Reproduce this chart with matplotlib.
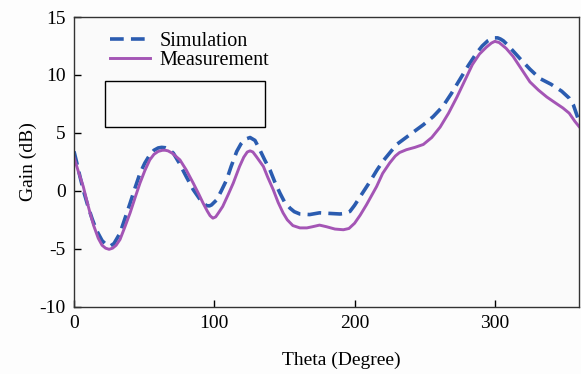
import matplotlib
matplotlib.use("Agg")
import matplotlib.pyplot as plt
from matplotlib.patches import Rectangle

plt.rcParams['font.family'] = ['Liberation Serif', 'DejaVu Serif']
plt.rcParams['axes.unicode_minus'] = False

# Simulated gain vs. theta
sim_theta = [0, 2, 4.3, 7, 10, 13, 16, 20, 23, 25.7, 28.5, 32.8, 36, 40, 43.5, 47, 50.5,
             54, 57, 60, 62.5, 65, 67.5, 70.8, 75, 80, 85, 90, 92.5, 94.5, 96.5, 98,
             101.7, 105, 108.8, 112, 116, 119, 122, 125.5, 129, 132.6, 136, 139.7, 143,
             146.8, 150, 154, 157, 161, 168, 175, 182, 189.6, 193, 196.7, 200, 204, 211,
             216, 220.5, 230, 240, 249, 256, 263, 269, 275, 281, 287, 291, 295, 298, 300,
             302, 304, 306, 309, 312, 318, 325, 332, 340, 347.6, 353, 356, 358, 360]
sim_gain = [3.4, 2.4, 1.2, -0.1, -1.35, -2.45, -3.4, -4.3, -4.65, -4.78, -4.55, -3.65,
            -2.5, -1.06, 0.25, 1.5, 2.4, 3.1, 3.5, 3.7, 3.75, 3.72, 3.6, 3.25, 2.4, 1.23,
            0.1, -0.78, -1.1, -1.28, -1.3, -1.22, -0.78, 0.0, 0.95, 2.1, 3.4, 4.05, 4.45,
            4.6, 4.35, 3.5, 2.65, 1.8, 0.8, -0.2, -0.95, -1.5, -1.8, -2.0, -2.05, -1.9,
            -1.95, -2.0, -1.95, -1.78, -1.25, -0.5, 0.8, 1.8, 2.6, 4.0, 4.9, 5.7, 6.4,
            7.3, 8.4, 9.6, 10.8, 11.9, 12.5, 12.95, 13.15, 13.2, 13.2, 13.1, 12.95, 12.6,
            12.2, 11.4, 10.5, 9.7, 9.2, 8.6, 8.0, 7.4, 6.7, 6.0]

# Measured gain vs. theta
meas_theta = [0, 3, 6.6, 9, 11.4, 14, 17.3, 20, 22.5, 25, 27.5, 30, 32.8, 36, 40, 43.5,
              47, 50.5, 54, 57, 60, 63, 65, 67, 70, 75.5, 80, 85, 89, 92, 95, 97, 99,
              101, 103, 106, 110, 113.5, 118, 121, 123.5, 125.5, 127.5, 130, 135, 138,
              142, 145.5, 149, 152, 156, 161, 166, 170, 175, 180, 186, 192, 196, 200,
              204, 208.5, 215.7, 220, 225, 229, 232, 237, 243, 249, 255, 261, 267, 273,
              278.5, 284, 289, 294, 297.5, 300, 303, 308, 313, 319, 325, 331, 337, 343,
              348.5, 353, 357, 360]
meas_gain = [2.9, 1.7, 0.37, -0.8, -1.9, -3.0, -4.1, -4.7, -4.95, -5.05, -4.95, -4.7,
             -4.2, -3.2, -1.9, -0.6, 0.66, 1.75, 2.67, 3.15, 3.4, 3.5, 3.5, 3.45, 3.25,
             2.67, 1.8, 0.66, -0.3, -1.06, -1.75, -2.15, -2.36, -2.25, -1.9, -1.35, -0.3,
             0.66, 2.1, 2.9, 3.35, 3.45, 3.35, 2.95, 2.1, 1.2, 0.1, -1.0, -1.9, -2.5,
             -3.0, -3.2, -3.2, -3.1, -2.96, -3.1, -3.3, -3.36, -3.25, -2.8, -2.1, -1.2,
             0.37, 1.5, 2.4, 3.0, 3.3, 3.55, 3.75, 4.0, 4.6, 5.5, 6.7, 8.1, 9.5, 10.9,
             11.8, 12.4, 12.75, 12.9, 12.8, 12.3, 11.6, 10.5, 9.4, 8.7, 8.1, 7.6, 7.15,
             6.7, 6.0, 5.55]

x_ticks = [0, 100, 200, 300]
y_ticks = [-10, -5, 0, 5, 10, 15]

fig = plt.figure(figsize=(5.81, 3.74), dpi=100, facecolor='#fdfdfd')
ax = fig.add_axes([0.1274, 0.18, 0.8692, 0.7745])
ax.set_facecolor('#fafafa')

ax.plot(sim_theta, sim_gain, color='#2b5cb0', lw=2.6, ls=(0, (3.8, 2.0)),
        label='Simulation', solid_joinstyle='round')
ax.plot(meas_theta, meas_gain, color='#a455b5', lw=2.1, label='Measurement',
        solid_joinstyle='round')

ax.add_patch(Rectangle((22, 5.5), 114, 4.0, fill=False, ec='black', lw=1.0))

ax.set_xlim(0, 360)
ax.set_ylim(-10, 15)
ax.set_xticks(x_ticks)
ax.set_yticks(y_ticks)
ax.tick_params(direction='in', length=5, width=1, labelsize=14, pad=6)
for s in ax.spines.values():
    s.set_linewidth(1.0)
    s.set_color('#333333')

ax.set_xlabel('Theta (Degree)', fontsize=14, labelpad=11)
ax.xaxis.set_label_coords(0.53, -0.155)
ax.set_ylabel('Gain (dB)', fontsize=14, labelpad=0)
ax.yaxis.set_label_coords(-0.073, 0.5)

ax.legend(loc='upper left', bbox_to_anchor=(0.072, 0.95), frameon=False,
          fontsize=14.5, handlelength=1.95, handletextpad=0.5, labelspacing=0.0,
          borderaxespad=0.0, borderpad=0.0)

fig.savefig('out.png', dpi=100, facecolor=fig.get_facecolor())
